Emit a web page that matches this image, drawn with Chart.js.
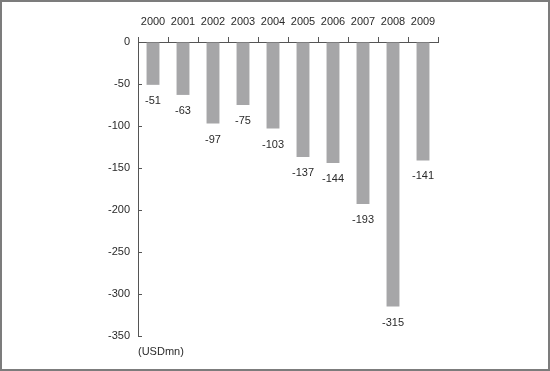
<!DOCTYPE html>
<html>
<head>
<meta charset="utf-8">
<script src="https://cdn.jsdelivr.net/npm/chart.js@4/dist/chart.umd.min.js"></script>
<style>
html,body{margin:0;padding:0;background:#fff;}
#wrap{position:relative;width:550px;height:371px;}
#frame{position:absolute;left:0;top:0;width:550px;height:371px;box-sizing:border-box;border:2px solid #7c7c7c;pointer-events:none;}
canvas{position:absolute;left:0;top:0;}
</style>
</head>
<body>
<div id="wrap">
<canvas id="c" width="550" height="371"></canvas>
<div id="frame"></div>
</div>
<script>
const years = ['2000','2001','2002','2003','2004','2005','2006','2007','2008','2009'];
const values = [-51,-63,-97,-75,-103,-137,-144,-193,-315,-141];
const yTicks = [0,-50,-100,-150,-200,-250,-300,-350];
const unitLabel = '(USDmn)';

const FONT = {family:"'Liberation Sans',Arial,sans-serif", size:11};
const TXT = '#2a2a2a';
const AXIS = '#555555';

const extras = {
  id:'extras',
  afterDatasetsDraw(chart){
    const ctx = chart.ctx;
    const meta = chart.getDatasetMeta(0);
    ctx.save();
    ctx.font = `${FONT.size}px ${FONT.family}`;
    ctx.fillStyle = TXT;
    ctx.textAlign = 'center';
    ctx.textBaseline = 'middle';
    meta.data.forEach((bar,i)=>{
      ctx.fillText(String(values[i]), bar.x, bar.y + 16);
    });
    const y = chart.scales.y;
    const left = chart.chartArea.left;
    ctx.strokeStyle = AXIS;
    ctx.lineWidth = 1;
    yTicks.forEach(v=>{
      const py = Math.round(y.getPixelForValue(v)) + 0.5;
      ctx.beginPath();
      ctx.moveTo(left, py);
      ctx.lineTo(left + 4, py);
      ctx.stroke();
    });
    ctx.textAlign = 'left';
    ctx.fillText(unitLabel, left, chart.chartArea.bottom + 16);
    ctx.restore();
  }
};

new Chart(document.getElementById('c'), {
  type:'bar',
  data:{
    labels: years,
    datasets:[{
      data: values,
      backgroundColor:'#a6a6a8',
      borderWidth:0,
      categoryPercentage:1,
      barPercentage:0.43
    }]
  },
  options:{
    responsive:false,
    animation:false,
    devicePixelRatio:1,
    layout:{padding:{left:0,right:112,top:0,bottom:35}},
    plugins:{legend:{display:false},tooltip:{enabled:false}},
    scales:{
      x:{
        position:'top',
        grid:{display:true,drawOnChartArea:false,drawTicks:true,tickLength:5,color:AXIS,offset:true},
        border:{display:true,color:AXIS},
        ticks:{color:TXT,font:FONT,padding:8,maxRotation:0,autoSkip:false},
        afterFit(s){ s.height = 42; }
      },
      y:{
        min:-350,max:0,
        afterBuildTicks(s){ s.ticks = yTicks.map(v=>({value:v})); },
        grid:{display:true,drawOnChartArea:false,drawTicks:false},
        border:{display:true,color:AXIS},
        ticks:{color:TXT,font:FONT,padding:8},
        afterFit(s){ s.width = 138; }
      }
    }
  },
  plugins:[extras]
});
</script>
</body>
</html>
